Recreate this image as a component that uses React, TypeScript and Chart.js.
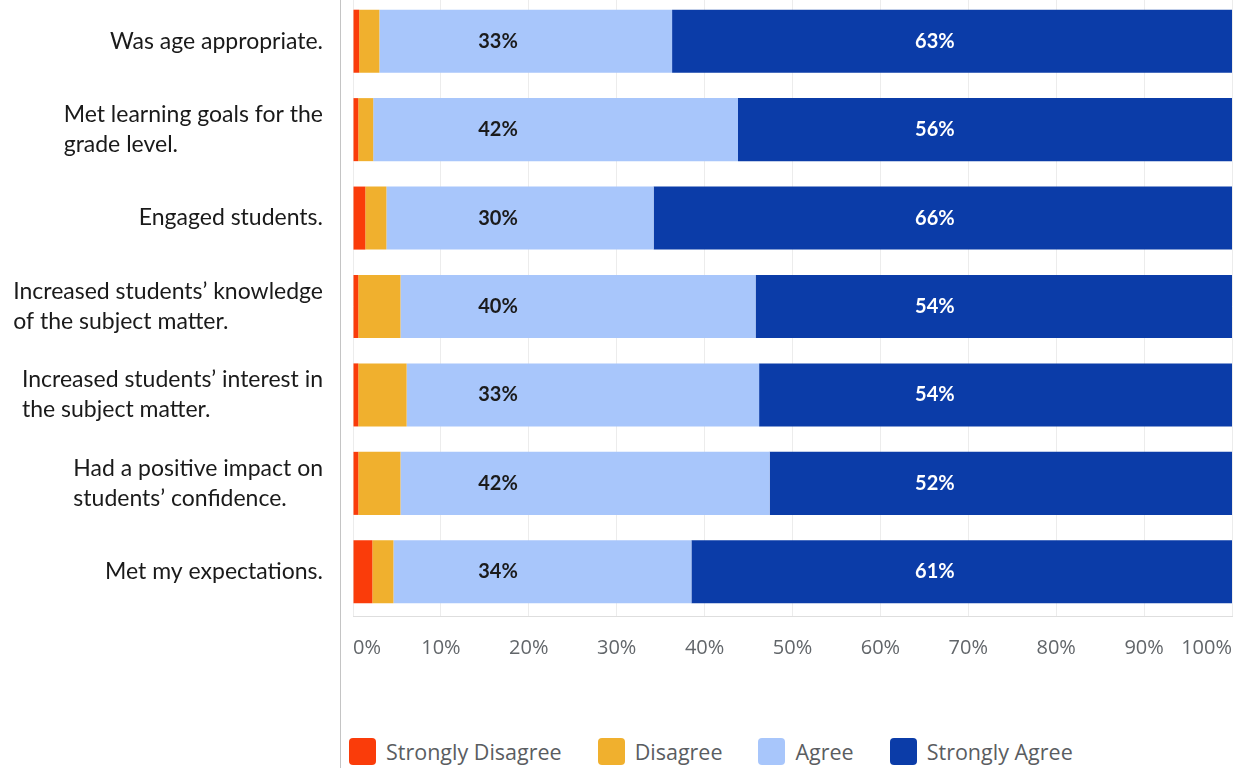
import { useEffect, useRef } from "react";
import { Chart, registerables } from "chart.js";

Chart.register(...registerables);

const categories: string[][] = [
  ["Was age appropriate."],
  ["Met learning goals for the", "grade level."],
  ["Engaged students."],
  ["Increased students’ knowledge", "of the subject matter."],
  ["Increased students’ interest in", "the subject matter."],
  ["Had a positive impact on", "students’ confidence."],
  ["Met my expectations."],
];

const seriesNames = ["Strongly Disagree", "Disagree", "Agree", "Strongly Agree"];

const stronglyDisagree = [0.7, 0.6, 1.4, 0.6, 0.6, 0.6, 2.2];
const disagree = [2.3, 1.7, 2.4, 4.8, 5.5, 4.8, 2.4];
const agree = [33.3, 41.5, 30.4, 40.4, 40.1, 42.0, 33.9];
const stronglyAgree = [63.7, 56.2, 65.8, 54.2, 53.8, 52.6, 61.5];

const agreeLabels = ["33%", "42%", "30%", "40%", "33%", "42%", "34%"];
const stronglyAgreeLabels = ["63%", "56%", "66%", "54%", "54%", "52%", "61%"];

const xTicks = [0, 10, 20, 30, 40, 50, 60, 70, 80, 90, 100];

const seriesColors = ["#FA3C0A", "#F0B02E", "#A8C6FB", "#0B3CA8"];

// label anchor positions (in axis value units)
const agreeLabelAt = 16.5;
const strongLabelAt = 66.2;

const labelPlugin = {
  id: "customLabels",
  afterDatasetsDraw(chart: any) {
    const ctx = chart.ctx as CanvasRenderingContext2D;
    const xs = chart.scales.x;
    const ys = chart.scales.y;
    ctx.save();
    // value labels
    ctx.font = "bold 20px Lato";
    ctx.textAlign = "center";
    ctx.textBaseline = "middle";
    categories.forEach((_, i) => {
      const y = ys.getPixelForValue(i);
      ctx.fillStyle = "#1b1b1b";
      ctx.fillText(agreeLabels[i], xs.getPixelForValue(agreeLabelAt), y);
      ctx.fillStyle = "#ffffff";
      ctx.fillText(stronglyAgreeLabels[i], xs.getPixelForValue(strongLabelAt), y);
    });
    // category labels (block right-aligned, lines left-aligned)
    ctx.font = "23px Lato";
    ctx.textAlign = "left";
    ctx.fillStyle = "#1a1a1a";
    const lineH = 30;
    const rightEdge = chart.chartArea.left - 30;
    categories.forEach((lines, i) => {
      const cy = ys.getPixelForValue(i);
      const w = Math.max(...lines.map((l) => ctx.measureText(l).width));
      const x0 = rightEdge - w;
      lines.forEach((l, j) => {
        ctx.fillText(l, x0, cy + (j - (lines.length - 1) / 2) * lineH);
      });
    });
    ctx.restore();
  },
};

export default function App() {
  const ref = useRef<HTMLCanvasElement | null>(null);

  useEffect(() => {
    document.body.style.margin = "0";
    const canvas = ref.current;
    if (!canvas) return;
    const values = [stronglyDisagree, disagree, agree, stronglyAgree];
    const chart = new Chart(canvas, {
      type: "bar",
      data: {
        labels: categories.map((c) => c.join(" ")),
        datasets: seriesNames.map((name, k) => ({
          label: name,
          data: values[k],
          backgroundColor: seriesColors[k],
          borderWidth: 0,
          barPercentage: 0.713,
          categoryPercentage: 1,
        })),
      },
      options: {
        indexAxis: "y",
        animation: false,
        responsive: false,
        maintainAspectRatio: false,
        devicePixelRatio: 1,
        layout: { padding: { left: 353, right: 10, top: 0, bottom: 0 } },
        plugins: {
          legend: { display: false },
          tooltip: { enabled: false },
        },
        scales: {
          x: {
            type: "linear",
            stacked: true,
            min: 0,
            max: 100,
            afterBuildTicks: (scale: any) => {
              scale.ticks = xTicks.map((v) => ({ value: v }));
            },
            ticks: {
              callback: (v: any) => v + "%",
              align: "inner",
              color: "#62666a",
              font: { family: "'Open Sans'", size: 20 },
              padding: 20,
            },
            grid: { color: "#ececec", drawTicks: false },
            border: { color: "#dedede" },
            afterFit: (scale: any) => {
              scale.height = 60;
              scale.paddingLeft = 0;
              scale.paddingRight = 0;
            },
          },
          y: {
            stacked: true,
            display: false,
          },
        },
      } as any,
      plugins: [labelPlugin],
    });
    return () => chart.destroy();
  }, []);

  return (
    <div
      style={{
        position: "absolute",
        left: 0,
        top: 0,
        width: 1242,
        height: 768,
        overflow: "hidden",
        background: "#ffffff",
      }}
    >
      <div
        style={{
          position: "absolute",
          left: 340,
          top: 0,
          width: 1,
          height: 768,
          background: "#c4c4c4",
        }}
      />
      <canvas
        ref={ref}
        width={1242}
        height={679}
        style={{ position: "absolute", left: 0, top: -3, width: 1242, height: 679 }}
      />
      <div
        style={{
          position: "absolute",
          left: 349,
          top: 737,
          height: 28,
          display: "flex",
          alignItems: "center",
          fontFamily: "'Open Sans'",
          fontSize: 21.5,
          color: "#5a5d61",
          whiteSpace: "nowrap",
        }}
      >
        {seriesNames.map((name, k) => (
          <div
            key={name}
            style={{ display: "flex", alignItems: "center", marginRight: 36 }}
          >
            <span
              style={{
                display: "inline-block",
                width: 27,
                height: 27,
                borderRadius: 4,
                background: seriesColors[k],
                marginRight: 10,
              }}
            />
            <span>{name}</span>
          </div>
        ))}
      </div>
    </div>
  );
}
